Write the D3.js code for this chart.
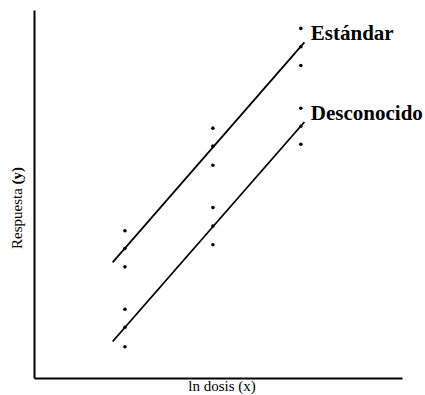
<!DOCTYPE html>
<html>
<head>
<meta charset="utf-8">
<script src="https://cdn.jsdelivr.net/npm/d3@7"></script>
<style>
  body { margin: 0; background: #fff; }
  text { font-family: "Liberation Serif", "Times New Roman", serif; fill: #000; }
</style>
</head>
<body>
<div id="graph"></div>
<script>
// ln dose levels
var doses = [1, 2, 3]
// three replicate responses per dose
var estandar = [
  [3.02, 3.52, 4.00],
  [5.78, 6.30, 6.79],
  [8.49, 9.00, 9.50]
]
var desconocido = [
  [0.85, 1.38, 1.87],
  [3.62, 4.13, 4.63],
  [6.35, 6.84, 7.33]
]
var seriesNames = ['Estándar', 'Desconocido']
var fitRange = [0.86, 3.04]

var width = 425, height = 395

var svg = d3.select('#graph').append('svg')
  .attr('width', width)
  .attr('height', height)

var x = d3.scaleLinear().domain([-0.034, 4.15]).range([34, 402])
var y = d3.scaleLinear().domain([0, 10]).range([378, 10])

// axes, no ticks
svg.append('g')
  .attr('transform', 'translate(0,' + y(0) + ')')
  .call(d3.axisBottom(x).tickValues([]).tickSizeOuter(0))
  .select('.domain').attr('stroke-width', 2)
svg.append('g')
  .attr('transform', 'translate(' + x.range()[0] + ',0)')
  .call(d3.axisLeft(y).tickValues([]).tickSizeOuter(0))
  .select('.domain').attr('stroke-width', 2)

function drawSeries(vals, name) {
  var pts = []
  vals.forEach(function(reps, i) {
    reps.forEach(function(v) { pts.push({x: doses[i], y: v}) })
  })

  // least squares fit
  var mx = d3.mean(pts, function(d) { return d.x }),
    my = d3.mean(pts, function(d) { return d.y })
  var b = d3.sum(pts, function(d) { return (d.x - mx) * (d.y - my) }) /
    d3.sum(pts, function(d) { return (d.x - mx) * (d.x - mx) })
  var a = my - b * mx

  svg.append('line')
    .attr('x1', x(fitRange[0])).attr('y1', y(a + b * fitRange[0]))
    .attr('x2', x(fitRange[1])).attr('y2', y(a + b * fitRange[1]))
    .attr('stroke', '#000')
    .attr('stroke-width', 1.8)

  svg.selectAll(null)
    .data(pts)
    .enter().append('circle')
    .attr('cx', function(d) { return x(d.x) })
    .attr('cy', function(d) { return y(d.y) })
    .attr('r', 1.8)
    .attr('fill', '#000')

  var top = d3.max(vals[vals.length - 1])
  svg.append('text')
    .attr('x', x(doses[doses.length - 1]) + 10)
    .attr('y', y(top) + 12)
    .attr('font-size', 21)
    .attr('font-weight', 'bold')
    .text(name)
}

drawSeries(estandar, seriesNames[0])
drawSeries(desconocido, seriesNames[1])

// axis labels
svg.append('text')
  .attr('x', 222)
  .attr('y', 391)
  .attr('text-anchor', 'middle')
  .attr('font-size', 15)
  .text('ln dosis (x)')

var yl = svg.append('text')
  .attr('transform', 'translate(22,208) rotate(-90)')
  .attr('text-anchor', 'middle')
  .attr('font-size', 15)
yl.append('tspan').text('Respuesta ')
yl.append('tspan').attr('font-weight', 'bold').text('(y)')
</script>
</body>
</html>
